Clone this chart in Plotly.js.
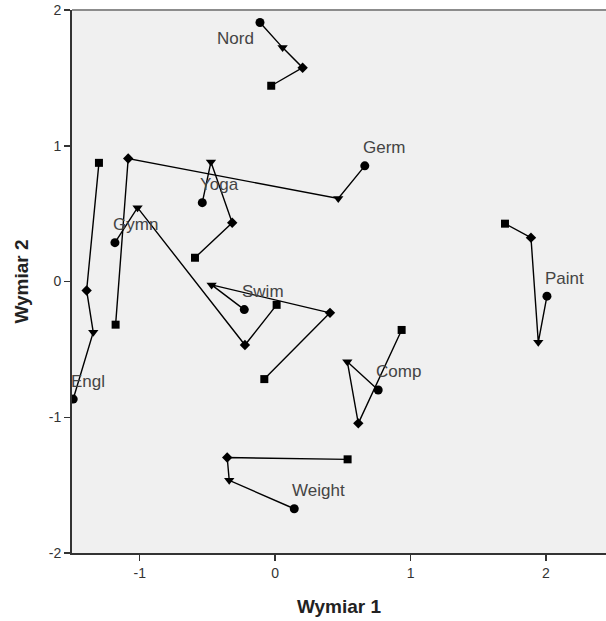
<!DOCTYPE html>
<html>
<head>
<meta charset="utf-8">
<script src="https://cdn.plot.ly/plotly-3.0.1.min.js"></script>
<style>
  html, body { margin: 0; padding: 0; background: #ffffff; }
  #chart { width: 606px; height: 621px; }
</style>
</head>
<body>
<div id="chart"></div>
<script>
// Objects (order of trajectory: circle -> triangle -> diamond -> square)
const groups = ['Engl', 'Gymn', 'Yoga', 'Germ', 'Nord', 'Swim', 'Comp', 'Weight', 'Paint'];

const circleX   = [-1.491, -1.183, -0.538,  0.662, -0.112, -0.228,  0.761,  0.141,  2.007];
const circleY   = [-0.866,  0.286,  0.581,  0.852,  1.908, -0.207, -0.799, -1.674, -0.108];

const triangleX = [-1.343, -1.016, -0.474,  0.466,  0.055, -0.469,  0.533, -0.339,  1.943];
const triangleY = [-0.374,  0.544,  0.881,  0.611,  1.723, -0.025, -0.591, -1.465, -0.448];

const diamondX  = [-1.392, -0.223, -0.317, -1.085,  0.203,  0.405,  0.614, -0.354,  1.889];
const diamondY  = [-0.066, -0.468,  0.433,  0.906,  1.575, -0.231, -1.045, -1.297,  0.323];

const squareX   = [-1.301,  0.011, -0.592, -1.178, -0.029, -0.080,  0.934,  0.535,  1.697];
const squareY   = [ 0.874, -0.172,  0.175, -0.318,  1.442, -0.719, -0.357, -1.310,  0.426];

const xTicks = [-1, 0, 1, 2];
const yTicks = [-2, -1, 0, 1, 2];

// label placement (pixel shifts relative to the circle point)
const labelPlacement = {
  Nord:   {xanchor: 'right', xshift: -4, yshift: -16},
  default:{xanchor: 'left',  xshift: -4, yshift: 18}
};

const traces = [];
groups.forEach((g, i) => {
  traces.push({
    type: 'scatter', mode: 'lines', hoverinfo: 'skip', showlegend: false,
    x: [circleX[i], triangleX[i], diamondX[i], squareX[i]],
    y: [circleY[i], triangleY[i], diamondY[i], squareY[i]],
    line: {color: '#000000', width: 1.4}
  });
});

const markerSets = [
  {x: circleX,   y: circleY,   symbol: 'circle',        size: 9},
  {x: triangleX, y: triangleY, symbol: 'triangle-down', size: 9},
  {x: diamondX,  y: diamondY,  symbol: 'diamond',       size: 8},
  {x: squareX,   y: squareY,   symbol: 'square',        size: 8}
];
markerSets.forEach(m => {
  traces.push({
    type: 'scatter', mode: 'markers', showlegend: false,
    x: m.x, y: m.y, text: groups,
    marker: {symbol: m.symbol, size: m.size, color: '#000000', line: {width: 0}}
  });
});

const annotations = groups.map((g, i) => {
  const p = labelPlacement[g] || labelPlacement.default;
  return {
    x: circleX[i], y: circleY[i], xref: 'x', yref: 'y',
    text: g, showarrow: false,
    xanchor: p.xanchor, yanchor: 'middle',
    xshift: p.xshift, yshift: p.yshift,
    font: {family: 'Liberation Sans, Arial, sans-serif', size: 17, color: '#444444'}
  };
});

const layout = {
  width: 606, height: 621,
  margin: {l: 72, r: 0, t: 10, b: 68},
  paper_bgcolor: '#ffffff',
  plot_bgcolor: '#f0f0f0',
  showlegend: false,
  font: {family: 'Liberation Sans, Arial, sans-serif', color: '#333333'},
  xaxis: {
    range: [-1.5, 2.443], tickvals: xTicks, ticktext: xTicks.map(String),
    showgrid: false, zeroline: false,
    showline: true, linecolor: '#333333', linewidth: 2,
    ticks: 'outside', ticklen: 6, tickwidth: 1.5, tickcolor: '#333333',
    tickfont: {size: 14, color: '#333333'},
    title: {text: 'Wymiar 1', standoff: 20,
            font: {size: 19, color: '#222222', family: 'Liberation Sans, Arial, sans-serif', weight: 'bold'}}
  },
  yaxis: {
    range: [-2, 2], tickvals: yTicks, ticktext: yTicks.map(String),
    showgrid: false, zeroline: false,
    showline: true, linecolor: '#333333', linewidth: 2,
    ticks: 'outside', ticklen: 6, tickwidth: 1.5, tickcolor: '#333333',
    tickfont: {size: 14, color: '#333333'},
    title: {text: 'Wymiar 2', standoff: 15,
            font: {size: 19, color: '#222222', family: 'Liberation Sans, Arial, sans-serif', weight: 'bold'}}
  },
  shapes: [
    {type: 'line', xref: 'paper', yref: 'paper', x0: 0, x1: 1, y0: 1, y1: 1,
     line: {color: '#8c8c8c', width: 2}}
  ],
  annotations: annotations
};

Plotly.newPlot('chart', traces, layout, {displayModeBar: false, staticPlot: true});
</script>
</body>
</html>
